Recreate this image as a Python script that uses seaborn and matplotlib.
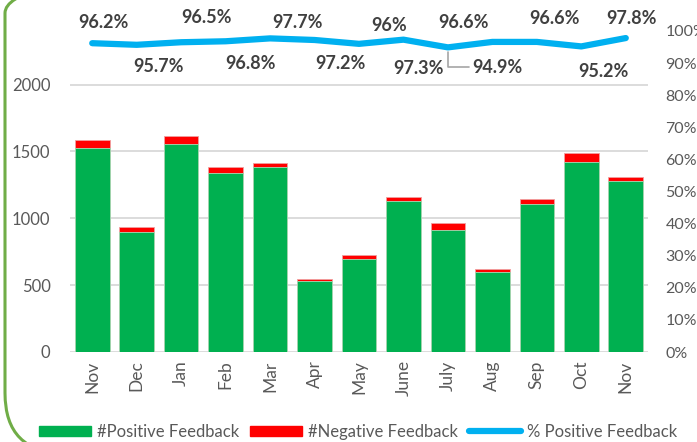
import numpy as np
import pandas as pd
import matplotlib
matplotlib.use("Agg")
import matplotlib.pyplot as plt
import seaborn as sns
from matplotlib.patches import Patch, FancyBboxPatch
from matplotlib.lines import Line2D

months = ["Nov", "Dec", "Jan", "Feb", "Mar", "Apr", "May", "June", "July", "Aug", "Sep", "Oct", "Nov"]
positive = [1526, 895, 1556, 1336, 1382, 532, 698, 1129, 915, 597, 1103, 1417, 1282]
negative = [60, 40, 56, 44, 33, 15, 29, 31, 49, 21, 39, 71, 29]
pct_positive = [96.2, 95.7, 96.5, 96.8, 97.7, 97.2, 96.0, 97.3, 94.9, 96.6, 96.6, 95.2, 97.8]
pct_labels = ["96.2%", "95.7%", "96.5%", "96.8%", "97.7%", "97.2%", "96%", "97.3%", "94.9%", "96.6%", "96.6%", "95.2%", "97.8%"]
# label offsets in pixels (dx, dy) from each point, as placed in the source chart
label_offsets = [(11, 21), (22, -22), (25, 25), (25, -22), (27, 16), (26, -24), (30, 18),
                 (15, -29), (49, -20), (-29, 19), (18, 23), (22, -25), (6, 20)]

GREEN = "#00B050"
RED = "#FF0000"
BLUE = "#00B0F0"
TXT = "#404040"
TICK = "#595959"

sns.set_style("white")
plt.rcParams["font.family"] = ["Lato", "DejaVu Sans"]

df = pd.DataFrame({"idx": range(len(months)), "month": months,
                   "pos": positive, "neg": negative, "pct": np.array(pct_positive) / 100})
df["total"] = df["pos"] + df["neg"]

fig = plt.figure(figsize=(6.97, 4.42), dpi=100)
ax = fig.add_axes([70 / 697, 90 / 442, 578 / 697, 321 / 442])

sns.barplot(data=df, x="idx", y="total", color=RED, width=0.78, ax=ax, saturation=1,
            edgecolor="#f0a0a0", linewidth=0.6)
sns.barplot(data=df, x="idx", y="pos", color=GREEN, width=0.78, ax=ax, saturation=1,
            edgecolor="#a8dcb8", linewidth=0.6)

ax.set_ylim(0, 2400)
ax.set_xlim(-0.5, len(months) - 0.5)
ax.set_yticks([0, 500, 1000, 1500, 2000])
for v in [0, 500, 1000, 1500, 2000]:
    ax.axhline(v, color="#D9D9D9", lw=1.3, zorder=0)
ax.set_xticks(range(len(months)))
ax.set_xticklabels(months, rotation=90, fontsize=12.5, color=TICK)
ax.tick_params(axis="y", labelsize=12, labelcolor=TICK, length=0, pad=14)
ax.tick_params(axis="x", length=0, pad=6)
ax.set_xlabel("")
ax.set_ylabel("")
for s in ax.spines.values():
    s.set_visible(False)

ax2 = ax.twinx()
sns.lineplot(data=df, x="idx", y="pct", color=BLUE, lw=4.5, ax=ax2, solid_capstyle="round")
ax2.set_ylim(0, 1.0)
ax2.set_yticks(np.arange(0, 1.01, 0.1))
ax2.set_yticklabels([f"{int(round(t * 100))}%" for t in np.arange(0, 1.01, 0.1)])
ax2.tick_params(axis="y", labelsize=11.5, labelcolor=TICK, length=0, pad=12.5)
ax2.set_ylabel("")
ax2.set_xlim(-0.5, len(months) - 0.5)
for s in ax2.spines.values():
    s.set_visible(False)

for i, (lab, (dx, dy)) in enumerate(zip(pct_labels, label_offsets)):
    kw = {}
    if lab == "94.9%":
        kw = dict(arrowprops=dict(arrowstyle="-", color="#A6A6A6", lw=1.2,
                                  connectionstyle="angle,angleA=0,angleB=90,rad=0",
                                  shrinkA=0, shrinkB=3))
    ax2.annotate(lab, (i, df["pct"][i]), xytext=(dx, dy), textcoords="offset pixels",
                 ha="center", va="center", fontsize=13, fontweight="bold", color=TXT,
                 annotation_clip=False, **kw)

handles = [Patch(color=GREEN), Patch(color=RED), Line2D([], [], color=BLUE, lw=4.5, solid_capstyle="round")]
fig.legend(handles, ["#Positive Feedback", "#Negative Feedback", "% Positive Feedback"],
           loc="center", bbox_to_anchor=(358 / 697, 0.023), ncol=3, frameon=False, fontsize=12,
           handlelength=3.1, handleheight=0.6, handletextpad=0.35, columnspacing=0.7,
           labelcolor=TICK, borderpad=0)

border = FancyBboxPatch((5, -11), 730, 500, boxstyle="round,pad=0,rounding_size=60",
                        transform=None, fill=False, edgecolor="#70AD47", lw=2.2)
fig.patches.append(border)

fig.savefig("out.png", dpi=100)
